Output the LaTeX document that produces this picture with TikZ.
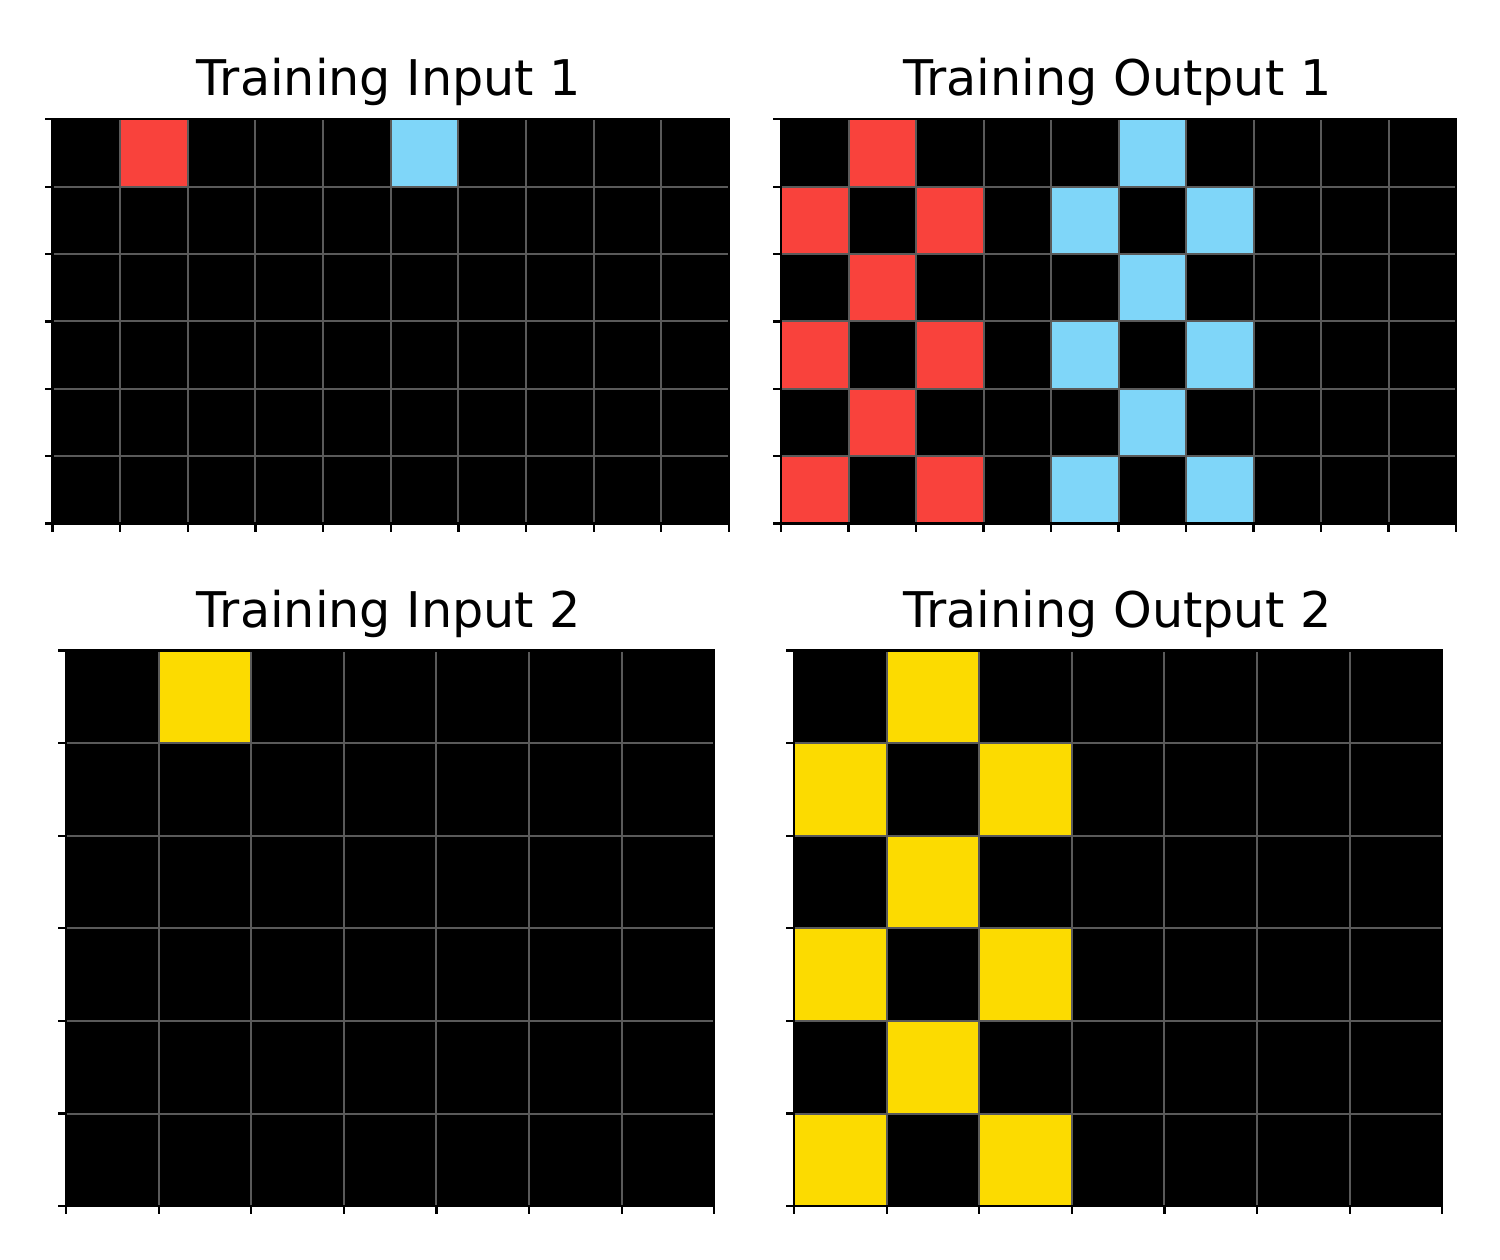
\documentclass[tikz,border=0pt]{standalone}
\usepackage{fontspec}
\setmainfont{DejaVu Sans}
\definecolor{arcred}{HTML}{F9423C}
\definecolor{arcblue}{HTML}{7FD6F9}
\definecolor{arcyellow}{HTML}{FCDB00}
\definecolor{gridgray}{HTML}{5A5A5A}
\tikzset{
  titletext/.style={font=\fontsize{49.2}{58}\selectfont, anchor=base, inner sep=0pt},
  gridline/.style={draw=gridgray, line width=2pt},
  spine/.style={draw=black, line width=2.2pt},
  tickmark/.style={draw=black, line width=2.2pt},
}
% #1 left, #2 top, #3 cols, #4 rows, #5 cell width, #6 cell height, #7 coloured cells
\newcommand\arcpanel[7]{%
  \fill[black] (#1,#2) rectangle ++({#3*#5},{#4*#6});
  \foreach \cx/\ry/\cc in {#7} \fill[\cc] ({#1+\cx*#5},{#2+\ry*#6}) rectangle ++(#5,#6);
  \pgfmathtruncatemacro\ncm{#3-1}
  \pgfmathtruncatemacro\nrm{#4-1}
  \foreach \i in {1,...,\ncm} \draw[gridline] ({#1+\i*#5},#2) -- ++(0,{#4*#6});
  \foreach \j in {1,...,\nrm} \draw[gridline] (#1,{#2+\j*#6}) -- ++({#3*#5},0);
  \draw[spine] (#1,#2) rectangle ++({#3*#5},{#4*#6});
  \foreach \i in {0,...,#3} \draw[tickmark] ({#1+\i*#5},{#2+#4*#6}) -- ++(0,8);
  \foreach \j in {0,...,#4} \draw[tickmark] (#1,{#2+\j*#6}) -- ++(-8,0);
}
\begin{document}
\begin{tikzpicture}[x=1pt,y=-1pt]
\useasboundingbox[fill=white] (0,0) rectangle (1500,1259);

\node[titletext] (t1) at (389,95.7) {Training Input 1};
\node[titletext] (t2) at (1117.5,95.7) {Training Output 1};
\node[titletext] (t3) at (389,627.7) {Training Input 2};
\node[titletext] (t4) at (1117.5,627.7) {Training Output 2};

\arcpanel{52.5}{119.3}{10}{6}{67.65}{67.37}{1/0/arcred,5/0/arcblue}

\arcpanel{781}{119.3}{10}{6}{67.5}{67.37}{%
  1/0/arcred,5/0/arcblue,
  0/1/arcred,2/1/arcred,4/1/arcblue,6/1/arcblue,
  1/2/arcred,5/2/arcblue,
  0/3/arcred,2/3/arcred,4/3/arcblue,6/3/arcblue,
  1/4/arcred,5/4/arcblue,
  0/5/arcred,2/5/arcred,4/5/arcblue,6/5/arcblue}

\arcpanel{66}{650.5}{7}{6}{92.6}{92.6}{1/0/arcyellow}

\arcpanel{794}{650.5}{7}{6}{92.6}{92.6}{%
  1/0/arcyellow,
  0/1/arcyellow,2/1/arcyellow,
  1/2/arcyellow,
  0/3/arcyellow,2/3/arcyellow,
  1/4/arcyellow,
  0/5/arcyellow,2/5/arcyellow}
\end{tikzpicture}
\end{document}
